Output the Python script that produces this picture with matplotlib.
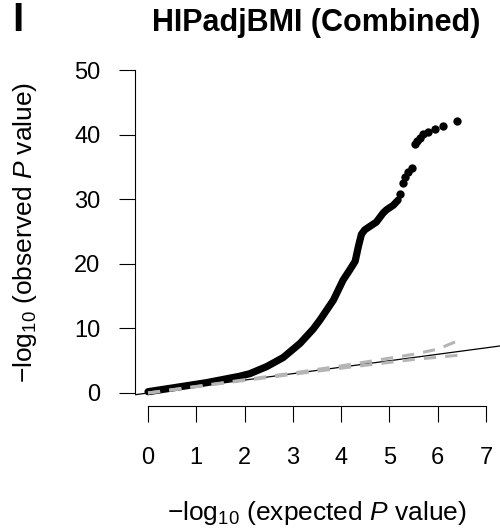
import matplotlib
matplotlib.use("Agg")
import matplotlib.pyplot as plt

plt.rcParams['font.family'] = ['Liberation Sans', 'DejaVu Sans']
plt.rcParams['mathtext.fontset'] = 'custom'
plt.rcParams['mathtext.rm'] = 'Liberation Sans'
plt.rcParams['mathtext.it'] = 'Liberation Sans:italic'
plt.rcParams['mathtext.bf'] = 'Liberation Sans:bold'

# Dense part of the QQ curve (expected, observed)
dense_x = [0.0, 0.52, 1.21, 1.9, 2.11, 2.46, 2.8, 3.15, 3.42, 3.56, 3.84, 4.04,
           4.18, 4.29, 4.36, 4.42, 4.49, 4.73, 4.87, 4.94, 5.08, 5.18]
dense_y = [0.2, 0.8, 1.6, 2.6, 3.0, 4.1, 5.5, 7.7, 9.9, 11.3, 14.4, 17.5,
           19.1, 20.4, 22.8, 24.6, 25.3, 26.5, 27.9, 28.4, 29.1, 29.9]
# Sparse top points
top_x = [5.22, 5.28, 5.33, 5.38, 5.46, 5.53, 5.58, 5.63, 5.70, 5.80, 5.94, 6.11, 6.41]
top_y = [30.9, 32.5, 33.5, 34.3, 34.9, 38.6, 39.0, 39.6, 40.2, 40.5, 41.0, 41.4, 42.2]

# Confidence band (dashed grey)
ci_x = [0.0, 1.0, 2.0, 3.0, 4.0, 5.0, 5.5, 6.0, 6.42]
ci_upper = [0.0, 1.02, 2.05, 3.1, 4.2, 5.4, 6.0, 6.8, 8.1]
ci_lower = [0.0, 0.98, 1.95, 2.9, 3.85, 4.75, 5.2, 5.55, 5.85]

xticks = [0, 1, 2, 3, 4, 5, 6, 7]
yticks = [0, 10, 20, 30, 40, 50]

fig = plt.figure(figsize=(5.0, 5.31), dpi=100)
ax = fig.add_axes([0.269, 0.2356, 0.730, 0.656])
ax.set_xlim(-0.28, 7.28)
ax.set_ylim(-2, 52)

# expected line y = x
ax.axline((0, 0), slope=1, color='black', lw=0.9, zorder=2)

ax.plot(ci_x, ci_upper, color='#b5b5b5', lw=2.2, dashes=(4, 3), zorder=4)
ax.plot(ci_x, ci_lower, color='#b5b5b5', lw=2.2, dashes=(4, 3), zorder=4)

ax.plot(dense_x, dense_y, color='black', lw=5.2, solid_capstyle='round',
        solid_joinstyle='round', zorder=3)
ax.plot(top_x, top_y, 'o', color='black', ms=6.0, mew=0, zorder=3)

for s in ['top', 'right']:
    ax.spines[s].set_visible(False)
ax.spines['left'].set_bounds(0, 50)
ax.spines['bottom'].set_bounds(0, 7)
ax.spines['left'].set_linewidth(0.8)
ax.spines['bottom'].set_linewidth(0.8)
ax.set_xticks(xticks)
ax.set_yticks(yticks)
ax.tick_params(axis='both', length=11.5, width=0.8, labelsize=17)
ax.tick_params(axis='x', pad=18)
ax.tick_params(axis='y', pad=13)

fig.text(0.633, 0.957, 'HIPadjBMI (Combined)', ha='center', va='center',
         fontsize=22, fontweight='bold')
fig.text(0.024, 0.962, 'I', ha='left', va='center', fontsize=29, fontweight='bold')
fig.text(0.634, 0.034, r'$-$log$_{10}$ (expected $P$ value)', ha='center',
         va='center', fontsize=19)
fig.text(0.05, 0.563, r'$-$log$_{10}$ (observed $P$ value)', ha='center',
         va='center', fontsize=19, rotation=90)

fig.savefig('out.png', dpi=100)
